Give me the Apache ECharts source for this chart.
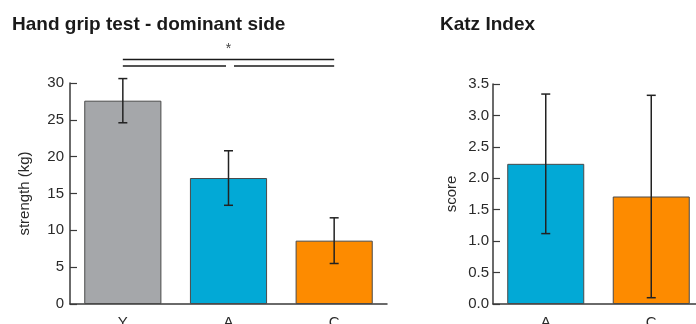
<!DOCTYPE html>
<html>
<head>
<meta charset="utf-8">
<script src="https://cdn.jsdelivr.net/npm/echarts@6/dist/echarts.min.js"></script>
<style>html,body{margin:0;padding:0;background:#fff}#c{width:696px;height:324px}</style>
</head>
<body>
<div id="c"></div>
<script>
// ---- data ----
const gripCats = ['Y', 'A', 'C'];
const gripMean = [27.6, 17.1, 8.6];
const gripErr = [3.0, 3.7, 3.1];
const gripTicks = [0, 5, 10, 15, 20, 25, 30];
// significance brackets: [fromIndex, toIndex, level]
const sigFrom = [0, 0, 1];
const sigTo = [2, 1, 2];
const sigLevel = [33.2, 32.3, 32.3];
const sigMark = '*';

const katzCats = ['A', 'C'];
const katzMean = [2.23, 1.71];
const katzErr = [1.11, 1.61];
const katzTicks = [0, 0.5, 1.0, 1.5, 2.0, 2.5, 3.0, 3.5];

const gripColors = ['#a5a7aa', '#02a9d6', '#fd8b00'];
const katzColors = ['#02a9d6', '#fd8b00'];

const FONT = 'Liberation Sans, Arial, sans-serif';
const TXT = '#2a2a2a';
const AX = '#3a3a3a';

function errRender(params, api) {
  const i = api.value(0), m = api.value(1), e = api.value(2);
  const top = api.coord([i, m + e]);
  const bot = api.coord([i, m - e]);
  const hw = 4.5;
  const st = { stroke: '#222', lineWidth: 1.5 };
  return { type: 'group', children: [
    { type: 'line', shape: { x1: top[0], y1: top[1], x2: bot[0], y2: bot[1] }, style: st },
    { type: 'line', shape: { x1: top[0] - hw, y1: top[1], x2: top[0] + hw, y2: top[1] }, style: st },
    { type: 'line', shape: { x1: bot[0] - hw, y1: bot[1], x2: bot[0] + hw, y2: bot[1] }, style: st }
  ]};
}

function sigRender(params, api) {
  const a = api.value(0), b = api.value(1), lv = api.value(2);
  const p1 = api.coord([a, lv]);
  const p2 = api.coord([b, lv]);
  let x1 = p1[0], x2 = p2[0];
  const st = { stroke: '#1a1a1a', lineWidth: 1.6 };
  if (params.dataIndex > 0) {
    if (b === 1) x2 -= 2.5;
    if (a === 1) x1 += 5.5;
  }
  const children = [{ type: 'line', shape: { x1: x1, y1: p1[1], x2: x2, y2: p2[1] }, style: st }];
  if (params.dataIndex === 0) {
    const mid = api.coord([1, lv + 1.4]);
    children.push({ type: 'text', style: { text: sigMark, x: mid[0], y: mid[1], align: 'center', verticalAlign: 'middle', font: '14px ' + FONT, fill: '#444' } });
  }
  return { type: 'group', children: children };
}

const chart = echarts.init(document.getElementById('c'), null, { renderer: 'canvas' });

function xAxisCfg(idx, cats) {
  return {
    type: 'category', gridIndex: idx, data: cats, boundaryGap: true,
    axisLine: { lineStyle: { color: AX, width: 1.5 } },
    axisTick: { inside: true, length: 5, lineStyle: { color: AX, width: 1.2 } },
    axisLabel: { color: TXT, fontFamily: FONT, fontSize: 15, margin: 11 }
  };
}
function yAxisCfg(idx, max, interval, name, gap, fmt, margin) {
  return {
    type: 'value', gridIndex: idx, min: 0, max: max, interval: interval,
    name: name, nameLocation: 'middle', nameRotate: 90, nameGap: gap,
    nameTextStyle: { color: TXT, fontFamily: FONT, fontSize: 15 },
    splitLine: { show: false },
    axisLine: { show: true, lineStyle: { color: AX, width: 1.5 } },
    axisTick: { show: true, inside: true, length: 7, lineStyle: { color: AX, width: 1.2 } },
    axisLabel: { color: TXT, fontFamily: FONT, fontSize: 15, margin: margin, formatter: fmt }
  };
}

chart.setOption({
  animation: false,
  title: [
    { text: 'Hand grip test - dominant side', left: 7, top: 10, textStyle: { fontFamily: FONT, fontSize: 19, fontWeight: 'bold', color: '#1a1a1a' } },
    { text: 'Katz Index', left: 435, top: 10, textStyle: { fontFamily: FONT, fontSize: 19, fontWeight: 'bold', color: '#1a1a1a' } }
  ],
  grid: [
    { left: 70, right: 309, top: 83, bottom: 20, containLabel: false, outerBoundsMode: 'none' },
    { left: 493, right: -8, top: 84, bottom: 20, containLabel: false, outerBoundsMode: 'none' }
  ],
  xAxis: [xAxisCfg(0, gripCats), xAxisCfg(1, katzCats)],
  yAxis: [
    yAxisCfg(0, 30, 5, 'strength (kg)', 38, v => String(v), 6),
    yAxisCfg(1, 3.5, 0.5, 'score', 34, v => v.toFixed(1), 4)
  ],
  series: [
    { type: 'bar', xAxisIndex: 0, yAxisIndex: 0, barWidth: '73%',
      data: gripMean.map((v, i) => ({ value: v, itemStyle: { color: gripColors[i] } })),
      itemStyle: { borderColor: '#4a4a4a', borderWidth: 1 } },
    { type: 'custom', xAxisIndex: 0, yAxisIndex: 0, renderItem: errRender, z: 5,
      encode: { x: 0, y: 1 },
      data: gripMean.map((v, i) => [i, v, gripErr[i]]) },
    { type: 'custom', xAxisIndex: 0, yAxisIndex: 0, renderItem: sigRender, z: 5, clip: false,
      encode: { x: 0, y: 2 },
      data: sigFrom.map((f, i) => [f, sigTo[i], sigLevel[i]]) },
    { type: 'bar', xAxisIndex: 1, yAxisIndex: 1, barWidth: '73%',
      data: katzMean.map((v, i) => ({ value: v, itemStyle: { color: katzColors[i] } })),
      itemStyle: { borderColor: '#4a4a4a', borderWidth: 1 } },
    { type: 'custom', xAxisIndex: 1, yAxisIndex: 1, renderItem: errRender, z: 5,
      encode: { x: 0, y: 1 },
      data: katzMean.map((v, i) => [i, v, katzErr[i]]) }
  ]
});
</script>
</body>
</html>
